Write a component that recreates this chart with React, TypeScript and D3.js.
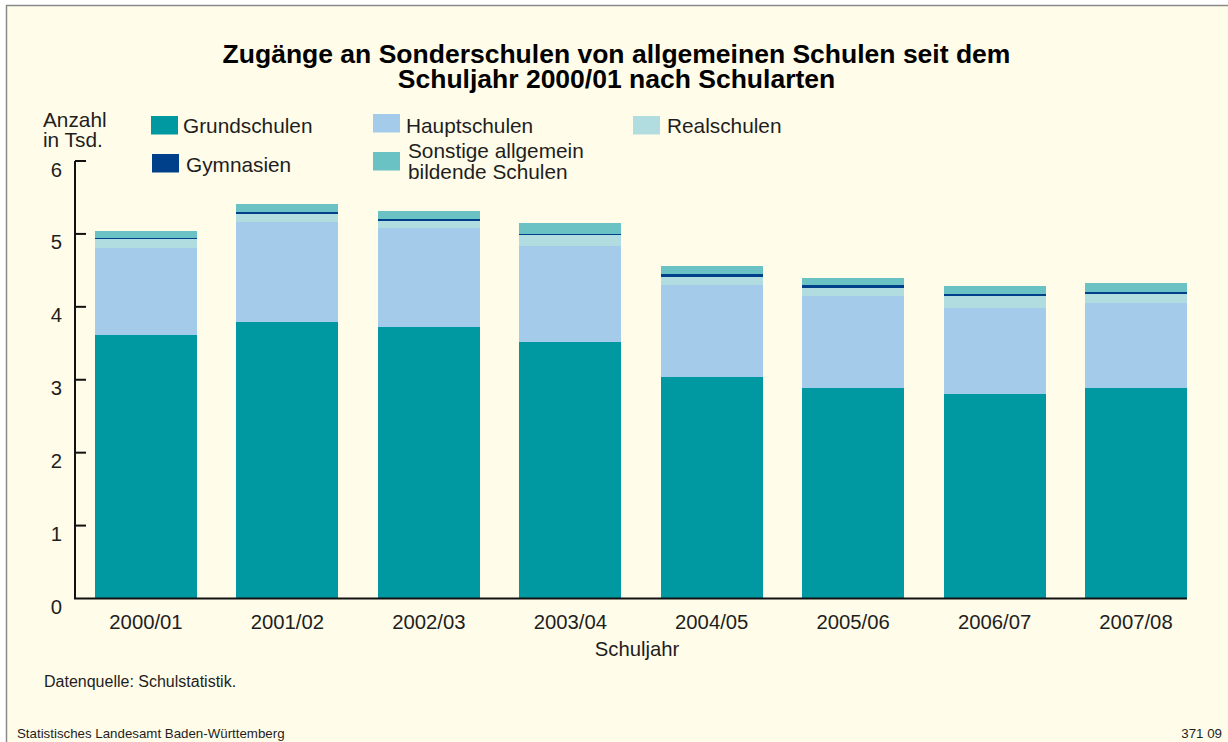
import React from "react";
import * as d3 from "d3";

const categories = ["2000/01", "2001/02", "2002/03", "2003/04", "2004/05", "2005/06", "2006/07", "2007/08"];
const grundschulen = [3.61, 3.79, 3.72, 3.52, 3.04, 2.89, 2.8, 2.89];
const hauptschulen = [1.2, 1.37, 1.36, 1.32, 1.26, 1.26, 1.18, 1.165];
const realschulen = [0.12, 0.11, 0.1, 0.14, 0.11, 0.11, 0.165, 0.125];
const gymnasien = [0.015, 0.027, 0.027, 0.023, 0.04, 0.04, 0.027, 0.027];
const sonstige = [0.1, 0.12, 0.11, 0.15, 0.11, 0.1, 0.12, 0.12];
const yTicks = [0, 1, 2, 3, 4, 5, 6];

const seriesKeys = ["grund", "haupt", "real", "gym", "sonst"];
const seriesColors: Record<string, string> = {
  grund: "#0098a1",
  haupt: "#a5cbeb",
  real: "#b2dde0",
  gym: "#003f8a",
  sonst: "#6ac2c5",
};

const W = 1228;
const H = 742;
const FONT = "'Liberation Sans', Arial, Helvetica, sans-serif";
const TEXT = "#1e1e1e";

export default function App() {
  const rows = categories.map((c, i) => ({
    cat: c,
    grund: grundschulen[i],
    haupt: hauptschulen[i],
    real: realschulen[i],
    gym: gymnasien[i],
    sonst: sonstige[i],
  }));
  const stack = d3.stack<any>().keys(seriesKeys)(rows);

  const x = d3.scaleBand<string>().domain(categories).range([95, 1187]).paddingInner(0.279).paddingOuter(0);
  const y = d3.scaleLinear().domain([0, 6]).range([598.5, 161]);
  const axisX = 75;
  const LEG = 20.8;
  const TICK = 20.3;

  return (
    <svg width={W} height={H} style={{ position: "absolute", left: 0, top: 0, fontFamily: FONT }}>
      <rect x={0} y={0} width={W} height={H} fill="#ffffff" />
      <rect x={6} y={5} width={W - 6} height={H - 5} fill="#fffce9" />
      <line x1={6} y1={5.5} x2={W} y2={5.5} stroke="#8a8a8a" strokeWidth={1.5} />
      <line x1={6.5} y1={5} x2={6.5} y2={H} stroke="#8a8a8a" strokeWidth={1.5} />

      <text x={616.5} y={63} textAnchor="middle" fontSize={26.5} fontWeight="bold" fill="#000">
        Zugänge an Sonderschulen von allgemeinen Schulen seit dem
      </text>
      <text x={616.5} y={88} textAnchor="middle" fontSize={26.5} fontWeight="bold" fill="#000">
        Schuljahr 2000/01 nach Schularten
      </text>

      <text x={43} y={127} fontSize={LEG} fill={TEXT}>Anzahl</text>
      <text x={43} y={147} fontSize={LEG} fill={TEXT}>in Tsd.</text>

      {/* legend */}
      <rect x={151} y={116} width={27} height={18.5} fill={seriesColors.grund} />
      <text x={183} y={133} fontSize={LEG} fill={TEXT}>Grundschulen</text>
      <rect x={152} y={154} width={27} height={18.5} fill={seriesColors.gym} />
      <text x={186} y={172} fontSize={LEG} fill={TEXT}>Gymnasien</text>
      <rect x={373} y={114} width={27} height={18.5} fill={seriesColors.haupt} />
      <text x={406} y={133} fontSize={LEG} fill={TEXT}>Hauptschulen</text>
      <rect x={373} y={152} width={27} height={18.5} fill={seriesColors.sonst} />
      <text x={408} y={158} fontSize={LEG} fill={TEXT}>Sonstige allgemein</text>
      <text x={408} y={179} fontSize={LEG} fill={TEXT}>bildende Schulen</text>
      <rect x={633} y={116} width={27} height={18.5} fill={seriesColors.real} />
      <text x={667} y={133} fontSize={LEG} fill={TEXT}>Realschulen</text>

      {/* bars */}
      <g shapeRendering="crispEdges">
        {stack.map((s) => (
          <g key={s.key} fill={seriesColors[s.key]}>
            {s.map((d, i) => (
              <rect key={i} x={x(categories[i])} width={x.bandwidth()} y={y(d[1])} height={y(d[0]) - y(d[1])} />
            ))}
          </g>
        ))}
      </g>

      {/* y axis */}
      <line x1={axisX} y1={y(6)} x2={axisX} y2={y(0)} stroke="#111" strokeWidth={2} />
      {yTicks.map((t) => (
        <g key={t}>
          {t > 0 && <line x1={axisX} x2={axisX + 11} y1={y(t)} y2={y(t)} stroke="#111" strokeWidth={2} />}
          <text x={62} y={y(t) + 15.5} textAnchor="end" fontSize={TICK} fill={TEXT}>{t}</text>
        </g>
      ))}
      <line x1={axisX - 1} y1={y(0)} x2={1187} y2={y(0)} stroke="#111" strokeWidth={2} />

      {categories.map((c) => (
        <text key={c} x={(x(c) as number) + x.bandwidth() / 2} y={628.5} textAnchor="middle" fontSize={TICK} fill={TEXT}>{c}</text>
      ))}
      <text x={637} y={655.5} textAnchor="middle" fontSize={TICK} fill={TEXT}>Schuljahr</text>

      <text x={44} y={687} fontSize={16} fill={TEXT}>Datenquelle: Schulstatistik.</text>
      <text x={17} y={738} fontSize={13.3} fill={TEXT}>Statistisches Landesamt Baden-Württemberg</text>
      <text x={1222} y={738} textAnchor="end" fontSize={13.3} fill={TEXT}>371 09</text>
    </svg>
  );
}
